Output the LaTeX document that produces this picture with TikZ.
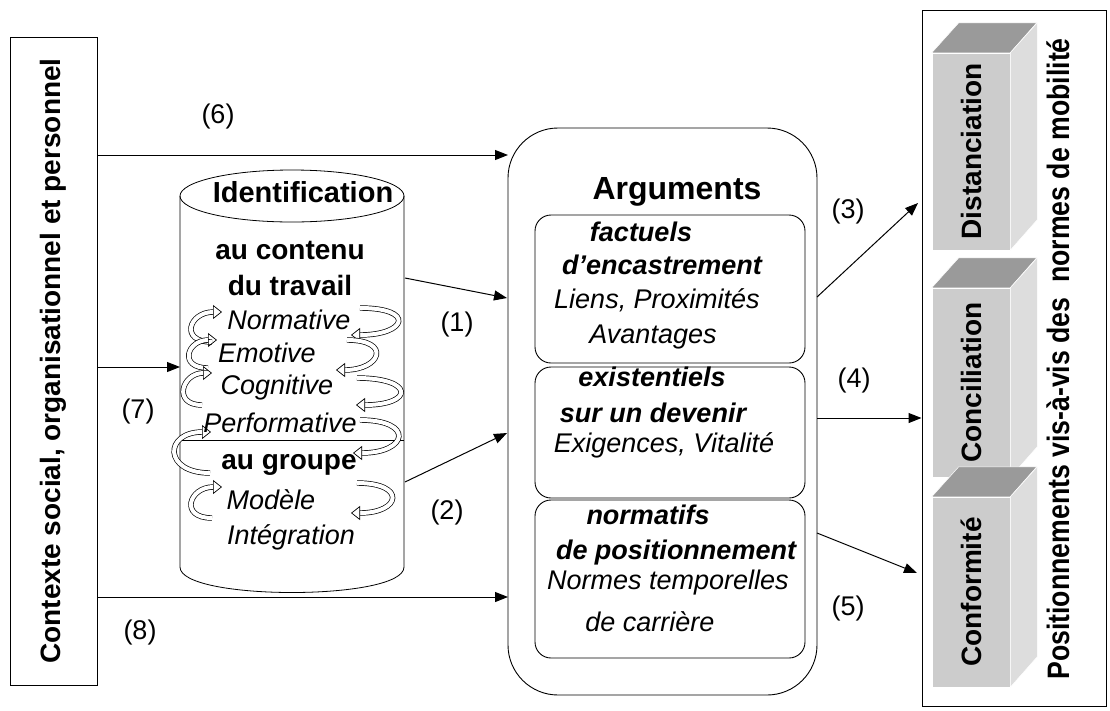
\documentclass[tikz,border=0pt]{standalone}
\usepackage{fontspec}
\setmainfont{Liberation Sans}
\usetikzlibrary{arrows.meta}

\definecolor{frontgray}{HTML}{CCCCCC}
\definecolor{topgray}{HTML}{9A9A9A}
\definecolor{sidegray}{HTML}{DDDDDD}

\tikzset{
  every node/.style={font=\fontsize{27}{32}\selectfont, inner sep=0pt},
  arr/.style={line width=1pt, -{Triangle[length=13pt,width=10pt]}},
  curl/.style={line width=0.7pt, double=white, double distance=4pt,
               -{Triangle[open,length=9pt,width=14pt]}},
  frame/.style={draw, line width=1pt, minimum width=#1},
  argbox/.style={draw, line width=0.9pt, rounded corners=16pt, minimum width=270pt},
  frontface/.style={fill=frontgray, draw=white, line width=0.5pt, minimum width=78pt},
  boxlabel/.style={rotate=90, font=\fontsize{28}{30}\selectfont\bfseries},
  it/.style={font=\fontsize{27}{32}\selectfont\itshape},
  bi/.style={font=\fontsize{27}{32}\selectfont\bfseries\itshape},
  bf/.style={font=\fontsize{28}{32}\selectfont\bfseries},
}

\begin{document}
\begin{tikzpicture}[x=1pt,y=-1pt]
  \useasboundingbox (0,0) rectangle (1110,710);

  % left box
  \node[frame=87pt, minimum height=648pt] (ctx) at (53.5,361) {};
  \node[rotate=90, font=\fontsize{28}{32}\selectfont\bfseries] (ctxlab) at (ctx.center)
       {Contexte social, organisationnel et personnel};

  % cylinder
  \draw[line width=0.8pt] (292,196) ellipse [x radius=112pt, y radius=26pt];
  \draw[line width=0.8pt] (180,196) -- (180,567)
       .. controls (180,601) and (404,601) .. (404,567) -- (404,196);
  \draw[line width=0.8pt] (180,440) -- (404,440);
  \node[font=\fontsize{29}{32}\selectfont\bfseries] (ident) at (303,192) {Identification};
  \node[bf] (cont1) at (290,250) {au contenu};
  \node[bf] (cont2) at (290,285) {du travail};
  \node[it] (normv) at (289,320) {Normative};
  \node[it] (emotv) at (267,353) {Emotive};
  \node[it] (cognv) at (277,388) {Cognitive};
  \node[it] (perfv) at (280,423) {Performative};
  \node[bf] (grp) at (289,465) {au groupe};
  \node[it] (model) at (271,500) {Modèle};
  \node[it] (integ) at (291,537) {Intégration};

  % curls left
  \draw[curl] (212,342) .. controls +(-33,0) and +(-33,0) .. (222,312);
  \draw[curl] (208,368) .. controls +(-30,0) and +(-30,0) .. (217,340);
  \draw[curl] (202,405) .. controls +(-30,0) and +(-30,0) .. (212,373);
  \draw[curl] (210,473) .. controls +(-47,0) and +(-47,0) .. (211,432);
  \draw[curl] (212,518) .. controls +(-33,0) and +(-33,0) .. (222,487);
  % curls right
  \draw[curl] (360,308) .. controls +(56,0) and +(56,0) .. (351,335);
  \draw[curl] (347,340) .. controls +(45,0) and +(45,0) .. (336,370);
  \draw[curl] (357,378) .. controls +(58,0) and +(58,0) .. (356,405);
  \draw[curl] (360,420) .. controls +(55,0) and +(55,0) .. (353,453);
  \draw[curl] (357,483) .. controls +(50,0) and +(50,0) .. (351,513);

  % arguments
  \node[draw, line width=0.9pt, rounded corners=50pt, minimum width=309pt,
        minimum height=567pt] (args) at (662.5,411.5) {};
  \node[font=\fontsize{32}{36}\selectfont\bfseries] (argt) at (677,192) {Arguments};
  \node[argbox, minimum height=148pt] (fact) at (670,289) {};
  \node[argbox, minimum height=131pt] (exist) at (670,432.5) {};
  \node[argbox, minimum height=158pt] (norm) at (670,579) {};
  \node[bi] (fact1) at (641,232) {factuels};
  \node[bi] (fact2) at (662,265) {d’encastrement};
  \node[it] (fact3) at (657,300) {Liens, Proximités};
  \node[it] (fact4) at (653,337) {Avantages};
  \node[bi] (exist1) at (652,377) {existentiels};
  \node[bi] (exist2) at (653,413) {sur un devenir};
  \node[it] (exist3) at (664,445) {Exigences, Vitalité};
  \node[bi] (norm1) at (648,515) {normatifs};
  \node[bi] (norm2) at (676,553) {de positionnement};
  \node[it] (norm3) at (668,583) {Normes temporelles};
  \node[it] (norm4) at (650,622) {de carrière};

  % positionnements
  \node[frame=184pt, minimum height=696pt] (pos) at (1014,358) {};
  \foreach \name/\yc/\h/\txt in {dist/151.5/197/Distanciation,
                                 conc/382.5/189/Conciliation,
                                 conf/592/190/Conformité}{
    \node[frontface, minimum height=\h pt] (\name) at (971,\yc) {};
    \fill[topgray, draw=white, line width=0.5pt] (\name.north west) -- ++(27,-30)
         -- ++(78,0) -- (\name.north east) -- cycle;
    \fill[sidegray, draw=white, line width=0.5pt] (\name.north east) -- ++(27,-30)
         -- ++(0,\h) -- (\name.south east) -- cycle;
    \node[boxlabel] (\name lab) at (\name.center) {\txt};
  }
  \node[rotate=90, font=\fontsize{31}{34}\selectfont\bfseries] (poslab) at (1058,359)
       {\scalebox{0.86}[1]{Positionnements vis-à-vis des\ \ normes de mobilité}};

  % connectors
  \coordinate (a6) at (508,155);
  \coordinate (c7) at (180,367);
  \coordinate (a8) at (508,597);
  \coordinate (c1) at (405,278);
  \coordinate (a1) at (507,298);
  \coordinate (c2) at (405,482);
  \coordinate (a2) at (507,433);
  \coordinate (s3) at (817,297);
  \coordinate (p3) at (918,203);
  \coordinate (s4) at (817,418);
  \coordinate (s5) at (817,533);
  \coordinate (p5) at (917,573);
  \draw[arr] (ctx.east |- a6) -- (a6);
  \draw[arr] (ctx.east |- c7) -- (c7);
  \draw[arr] (ctx.east |- a8) -- (a8);
  \draw[arr] (c1) -- (a1);
  \draw[arr] (c2) -- (a2);
  \draw[arr] (s3) -- (p3);
  \draw[arr] (s4) -- (pos.west |- s4);
  \draw[arr] (s5) -- (p5);

  \node (l6) at (218,117) {(6)};
  \node (l7) at (138,412) {(7)};
  \node (l8) at (140,632) {(8)};
  \node (l1) at (457,325) {(1)};
  \node (l2) at (447,513) {(2)};
  \node (l3) at (848,212) {(3)};
  \node (l4) at (854,381) {(4)};
  \node (l5) at (848,608) {(5)};
\end{tikzpicture}
\end{document}
